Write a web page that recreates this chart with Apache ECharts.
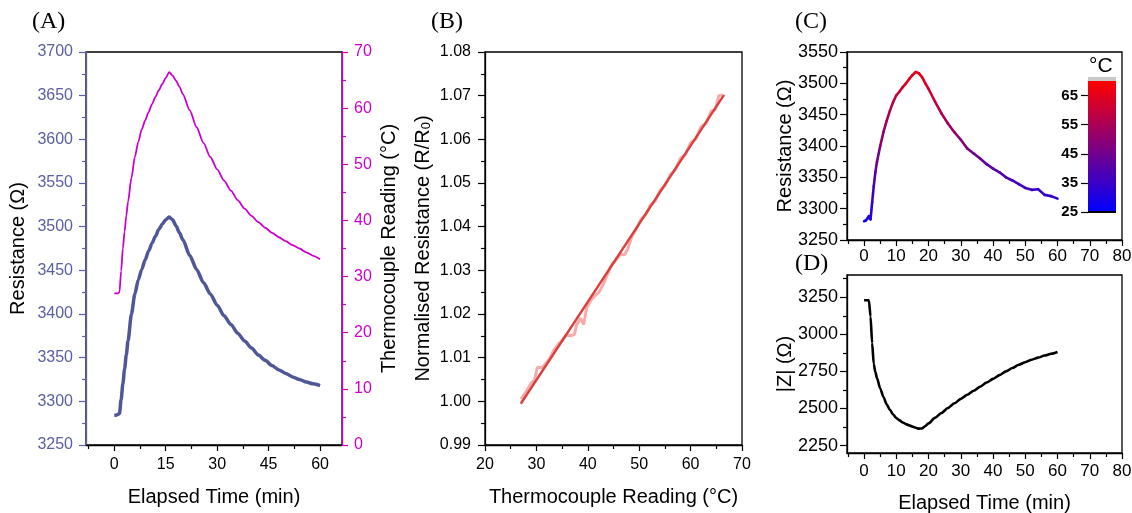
<!DOCTYPE html>
<html><head><meta charset="utf-8">
<script src="https://cdn.jsdelivr.net/npm/echarts@6/dist/echarts.min.js"></script>
<style>html,body{margin:0;padding:0;background:#fff}#c{width:1132px;height:513px}</style>
</head><body><div id="c"></div>
<script>
// ---------- data ----------
const time = [0,0.5,1,1.5,2,2.5,3,3.5,4,
  5,6,7,8,9,10,11,12,13,14,15,16,17,18,19,20,
  22,24,26,28,30,32,34,36,38,40,42,44,46,48,50,52,54,56,58,60];
const tempA = [27.0,27.0,27.0,27.2,31.0,35.0,38.0,40.8,43.3,
  47.6,51.3,54.0,56.2,57.8,59.3,60.7,62.0,63.2,64.3,65.4,66.4,65.8,64.9,63.8,62.5,
  59.6,56.6,53.8,51.3,49.1,47.1,45.3,43.6,42.1,40.8,39.7,38.7,37.8,37.0,36.3,35.6,35.0,34.3,33.7,33.1];
const resA = [3284,3284,3285,3286,3302,3320,3337,3353,3369,
  3400,3423,3439,3451,3462,3472,3481,3489,3497,3503,3508,3511,3508,3501,3493,3485,
  3467,3451,3436,3423,3410,3398,3388,3378,3369,3361,3353,3347,3341,3336,3332,3328,3325,3322,3320,3318];
const resC = [3280,3281,3284,3288,3283,3310,3336,3358,3375,
  3400,3422,3440,3456,3470,3481,3487,3494,3500,3507,3513,3518,3516,3510,3500,3491,
  3471,3452,3436,3422,3410,3396,3388,3380,3371,3364,3358,3350,3345,3339,3333,3330,3331,3322,3320,3316];
const impD = [3230,3230,3230,3228,3120,2940,2800,2745,2705,
  2635,2578,2529,2491,2460,2436,2420,2406,2395,2386,2378,2370,2364,2366,2382,2400,
  2437,2470,2503,2535,2565,2593,2620,2647,2675,2700,2725,2750,2773,2795,2812,2829,2843,2857,2869,2881];
const calibT = [27.0,28.0,29.0,29.6,30.2,31.0,31.8,32.6,33.4,34.2,35.0,35.8,36.6,37.4,37.8,38.6,39.2,39.8,40.6,41.4,42.2,43.0,43.8,44.6,45.5,46.4,47.2,47.8,48.6,49.5,50.4,51.3,52.2,53.1,54.0,55.0,56.0,57.0,58.0,59.0,60.0,61.0,62.0,63.0,64.0,64.8,65.5,66.2];
const calibR = [1.0005,1.0022,1.0042,1.0048,1.0078,1.0077,1.0086,1.0098,1.0118,1.0130,1.0140,1.0152,1.0150,1.0153,1.0175,1.0190,1.0176,1.0215,1.0232,1.0242,1.0250,1.0268,1.0290,1.0312,1.0324,1.0336,1.0336,1.0350,1.0378,1.0396,1.0418,1.0428,1.0450,1.0458,1.0482,1.0494,1.0518,1.0530,1.0556,1.0565,1.0592,1.0600,1.0628,1.0636,1.0665,1.0668,1.0700,1.0702];
const fitT = [26.96, 66.5];
const fitR = [0.99945, 1.0702];
const ticksAx = [0,15,30,45,60];
const minorAx = [-7.5,7.5,22.5,37.5,52.5];
const ticksCx = [0,10,20,30,40,50,60,70,80];
const minorCx = [-5,5,15,25,35,45,55,65,75];
const ticksDy = [2250,2500,2750,3000,3250];
const minorDy = [2375,2625,2875,3125,3375];
const cbTicks = [25,35,45,55,65];
const cbRange = [25,70];

// ---------- helpers ----------
const SANS = '"Liberation Sans", Arial, sans-serif';
const SERIF = '"Liberation Serif", "Times New Roman", serif';
const zip = (a,b) => a.map((v,i)=>[v,b[i]]);
const BLUE_AX = '#5a60a2', MAG = '#cc00cc';

function valAxis(o){
  const color = o.color || '#000';
  const ax = {
    type:'value', gridIndex:o.grid, min:o.min, max:o.max, position:o.position,
    splitLine:{show:false},
    axisLine:{show: o.line!==false, onZero:false, lineStyle:{color, width:1.3}},
    axisTick:{show:true, inside:false, length:o.tickLen||7, lineStyle:{color, width:1.2}},
    axisLabel:{show:o.labels!==false, color, fontSize:o.fs||16, fontFamily:SANS, margin:o.margin||12,
      fontWeight:o.bold?'bold':'normal', formatter:o.fmt || (v=>String(v))},
    minorTick:{show:!!o.minor, splitNumber:2, length:4, lineStyle:{color, width:1.2}},
    nameMoveOverlap:false
  };
  if (o.interval!=null) ax.interval = o.interval;
  if (o.customTicks){ ax.axisTick.customValues = o.customTicks; }
  if (o.customLabels){ ax.axisLabel.customValues = o.customLabels; }
  if (o.name){
    ax.name = o.name; ax.nameLocation='middle'; ax.nameGap=o.nameGap;
    if (o.nameRotate!=null) ax.nameRotate = o.nameRotate;
    ax.nameTextStyle = {fontSize:20, color:'#000', fontFamily:SANS, rich:o.rich};
  }
  return ax;
}

const xAxes = [
  valAxis({grid:0,min:-8.25,max:66.4,position:'bottom',customTicks:ticksAx,customLabels:ticksAx,tickLen:6,margin:12,name:'Elapsed Time (min)',nameGap:42}),
  valAxis({grid:0,min:-8.25,max:66.4,position:'bottom',customTicks:minorAx,tickLen:4,labels:false,line:false}),
  valAxis({grid:1,min:20,max:70,interval:10,position:'bottom',minor:true,tickLen:6,margin:12,name:'Thermocouple Reading (°C)',nameGap:42}),
  valAxis({grid:2,min:-5.3,max:80,position:'bottom',customTicks:ticksCx,customLabels:ticksCx,tickLen:6,margin:8,fs:17}),
  valAxis({grid:2,min:-5.3,max:80,position:'bottom',customTicks:minorCx,tickLen:4,labels:false,line:false}),
  valAxis({grid:3,min:-5.3,max:80,position:'bottom',customTicks:ticksCx,customLabels:ticksCx,tickLen:6,margin:10,fs:17,name:'Elapsed Time (min)',nameGap:40}),
  valAxis({grid:3,min:-5.3,max:80,position:'bottom',customTicks:minorCx,tickLen:4,labels:false,line:false}),
  {type:'value', gridIndex:4, min:0, max:1, show:false}
];
const yAxes = [
  valAxis({grid:0,min:3250,max:3700,interval:50,position:'left',minor:true,color:BLUE_AX,margin:13,name:'Resistance (Ω)',nameGap:58,nameRotate:90}),
  valAxis({grid:0,min:0,max:70,interval:10,position:'right',minor:true,color:MAG,margin:12,tickLen:6,name:'Thermocouple Reading (°C)',nameGap:37,nameRotate:90}),
  valAxis({grid:1,min:0.99,max:1.08,interval:0.01,position:'left',minor:true,margin:14,fmt:v=>v.toFixed(2),
    name:'Normalised Resistance (R/R{sub|0})',nameGap:52,nameRotate:90,
    rich:{sub:{fontSize:13,fontFamily:SANS,color:'#000',verticalAlign:'bottom',padding:[6,0,0,0]}}}),
  valAxis({grid:2,min:3250,max:3550,interval:50,position:'left',minor:true,margin:9,fs:18,name:'Resistance (Ω)',nameGap:52,nameRotate:90}),
  valAxis({grid:3,min:2200,max:3400,position:'left',customTicks:ticksDy,customLabels:ticksDy,margin:9,fs:18,name:'|Z| (Ω)',nameGap:52,nameRotate:90}),
  valAxis({grid:3,min:2200,max:3400,position:'left',customTicks:minorDy,tickLen:4,labels:false,line:false}),
  valAxis({grid:4,min:cbRange[0],max:cbRange[1],position:'left',customTicks:cbTicks,customLabels:cbTicks,line:false,tickLen:7,margin:10,fs:15,bold:true})
];

const segC = [];
for (let i=0;i<time.length-1;i++){
  segC.push([time[i], resC[i], (tempA[i]+tempA[i+1])/2, time[i+1], resC[i+1]]);
}

const gridBase = {show:true, borderColor:'#000', borderWidth:1.3, backgroundColor:'transparent', containLabel:false, outerBoundsMode:'none'};
const option = {
  animation:false,
  backgroundColor:'#fff',
  grid:[
    Object.assign({left:86, top:52, width:256, height:393}, gridBase),
    Object.assign({left:485, top:52, width:257, height:393}, gridBase),
    Object.assign({left:847, top:52, width:275, height:188}, gridBase),
    Object.assign({left:847, top:275, width:275, height:178}, gridBase),
    {left:1088, top:81, width:28, height:131, show:false, containLabel:false, outerBoundsMode:'none'}
  ],
  xAxis:xAxes,
  yAxis:yAxes,
  visualMap:[{type:'continuous', show:false, seriesIndex:4, dimension:2, min:cbRange[0], max:cbRange[1],
    inRange:{color:['#0000ff','#ff0000']}}],
  graphic:[
    {type:'text', left:32, top:10, style:{text:'(A)', font:'24px '+SERIF, fill:'#000'}},
    {type:'text', left:431, top:10, style:{text:'(B)', font:'24px '+SERIF, fill:'#000'}},
    {type:'text', left:795, top:10, style:{text:'(C)', font:'24px '+SERIF, fill:'#000'}},
    {type:'text', left:795, top:252, style:{text:'(D)', font:'24px '+SERIF, fill:'#000'}},
    {type:'text', left:1089, top:56, style:{text:'°C', font:'21px '+SANS, fill:'#000'}}
  ],
  series:[
    {type:'line', xAxisIndex:0, yAxisIndex:0, data:zip(time,resA), showSymbol:false, smooth:0.25, smoothMonotone:'x',
      lineStyle:{color:'#4f5797', width:3.5}, z:3},
    {type:'line', xAxisIndex:0, yAxisIndex:1, data:zip(time,tempA), showSymbol:false, smooth:0.25, smoothMonotone:'x',
      lineStyle:{color:MAG, width:1.8}, z:3},
    {type:'line', xAxisIndex:2, yAxisIndex:2, data:zip(calibT,calibR), showSymbol:false,
      lineStyle:{color:'#f6abab', width:3}, z:2},
    {type:'line', xAxisIndex:2, yAxisIndex:2, data:zip(fitT,fitR), showSymbol:false,
      lineStyle:{color:'#d8403e', width:2.4}, z:3},
    {type:'custom', xAxisIndex:3, yAxisIndex:3, encode:{x:[0,3], y:[1,4]}, data:segC, z:3,
      renderItem:(params, api)=>{
        const p1 = api.coord([api.value(0), api.value(1)]);
        const p2 = api.coord([api.value(3), api.value(4)]);
        return {type:'line', shape:{x1:p1[0],y1:p1[1],x2:p2[0],y2:p2[1]},
          style:{stroke:api.visual('color'), lineWidth:2.6, lineCap:'round'}};
      }},
    {type:'line', xAxisIndex:5, yAxisIndex:4, data:zip(time,impD), showSymbol:false, smooth:0.25, smoothMonotone:'x',
      lineStyle:{color:'#000', width:2.6}, z:3},
    {type:'custom', xAxisIndex:7, yAxisIndex:6, encode:{x:[0,2], y:[1,3]}, data:[[0,cbRange[0],1,cbRange[1]]], z:3,
      renderItem:(params, api)=>{
        const a = api.coord([api.value(0), api.value(3)]);
        const b = api.coord([api.value(2), api.value(1)]);
        const w = b[0]-a[0], h = b[1]-a[1];
        return {type:'group', children:[
          {type:'rect', shape:{x:a[0], y:a[1], width:w, height:h},
            style:{fill:new echarts.graphic.LinearGradient(0,0,0,1,[{offset:0,color:'#ff0000'},{offset:1,color:'#0000ff'}])}},
          {type:'rect', shape:{x:a[0], y:a[1]-4, width:w, height:4}, style:{fill:'#c8c8c8'}},
          {type:'rect', shape:{x:a[0], y:b[1]-1, width:w, height:2}, style:{fill:'#000'}}
        ]};
      }}
  ]
};
const chart = echarts.init(document.getElementById('c'), null, {renderer:'canvas'});
chart.setOption(option);
</script></body></html>
